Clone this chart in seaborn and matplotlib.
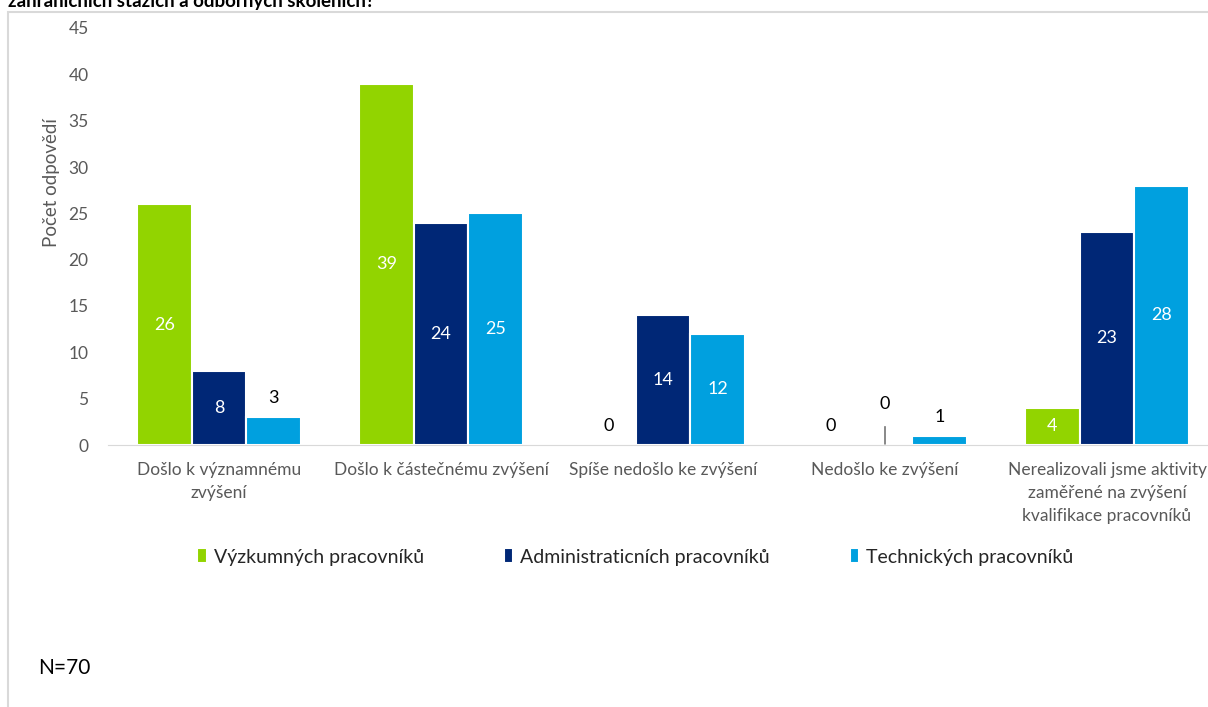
import matplotlib
matplotlib.use("Agg")
import matplotlib.pyplot as plt
from matplotlib.patches import Rectangle
import seaborn as sns
import pandas as pd

# %%
categories = [
    "Došlo k významnému\nzvýšení",
    "Došlo k částečnému zvýšení",
    "Spíše nedošlo ke zvýšení",
    "Nedošlo ke zvýšení",
    "Nerealizovali jsme aktivity\nzaměřené na zvýšení\nkvalifikace pracovníků",
]
series = ["Výzkumných pracovníků", "Administraticních pracovníků", "Technických pracovníků"]
vyzkumni = [26, 39, 0, 0, 4]
administrativni = [8, 24, 14, 0, 23]
technicti = [3, 25, 12, 1, 28]
colors = ["#92D400", "#002776", "#00A0DF"]

title_text = "zahraničních stážích a odborných školeních?"
y_label = "Počet odpovědí"
note = "N=70"

# %%
df = pd.DataFrame({
    "kategorie": categories * 3,
    "skupina": [s for s in series for _ in categories],
    "pocet": vyzkumni + administrativni + technicti,
})

# %%
sns.set_style("white")
plt.rcParams["font.family"] = ["Lato", "DejaVu Sans"]

fig = plt.figure(figsize=(12.08, 7.07), dpi=100)
ax = fig.add_axes([108 / 1208, 1 - 445 / 707, 1110 / 1208, 417 / 707])

sns.barplot(data=df, x="kategorie", y="pocet", hue="skupina", palette=colors,
            saturation=1, width=0.74, edgecolor="white", linewidth=1.5, ax=ax,
            legend=True)

ax.set_ylim(0, 45)
ax.set_xlim(-0.5, 4.5)
ax.set_yticks(range(0, 46, 5))
ax.tick_params(axis="y", length=0, labelsize=12.5, labelcolor="#595959", pad=14)
ax.set_xticks(range(len(categories)))
ax.set_xticklabels(categories, fontsize=12.5, color="#595959", linespacing=1.55)
ax.tick_params(axis="x", which="major", length=0, pad=12)
ax.set_xticks([i - 0.5 for i in range(len(categories) + 1)], minor=True)
ax.tick_params(axis="x", which="minor", length=7, color="#d9d9d9", width=1)
for side in ["left", "right", "top"]:
    ax.spines[side].set_visible(False)
ax.spines["bottom"].set_color("#d9d9d9")
ax.set_xlabel("")
ax.set_ylabel(y_label, fontsize=13.5, color="#595959")
ax.yaxis.set_label_coords(-0.043, 0.63)

# value labels
for ci, cont in enumerate(ax.containers):
    for bar in cont:
        h = bar.get_height()
        xc = bar.get_x() + bar.get_width() / 2
        if h >= 4:
            ax.text(xc, h / 2, f"{h:.0f}", ha="center", va="center",
                    color="white", fontsize=13)
        elif h == 0 and ci == 1:
            ax.annotate(f"{h:.0f}", xy=(xc, 0.1), xytext=(xc, 4.4),
                        ha="center", va="center", fontsize=13, color="black",
                        arrowprops=dict(arrowstyle="-", color="#595959", lw=1,
                                        shrinkA=8, shrinkB=0))
        else:
            ax.text(xc, h + 1.2, f"{h:.0f}", ha="center", va="bottom",
                    color="black", fontsize=13)

# legend
handles, labels = ax.get_legend_handles_labels()
ax.legend_.remove()
fig.legend(handles, labels, loc="center", bbox_to_anchor=(0.526, 1 - 557 / 707),
           ncol=3, frameon=False, fontsize=14, handlelength=0.5, handleheight=0.8,
           handletextpad=0.35, columnspacing=4.1)

# frame and texts
fig.patches.append(Rectangle((8 / 1208, -0.02), 1.2, 1 - 12 / 707 + 0.02,
                             transform=fig.transFigure, fill=False,
                             edgecolor="#d9d9d9", linewidth=1.5))
fig.text(8 / 1208, 1 - 7 / 707, title_text, ha="left", va="baseline",
         fontsize=13.5, fontweight="bold", color="black")
fig.text(38 / 1208, 1 - 668 / 707, note, ha="left", va="center",
         fontsize=15, color="black")

fig.savefig("out.png", dpi=100)
